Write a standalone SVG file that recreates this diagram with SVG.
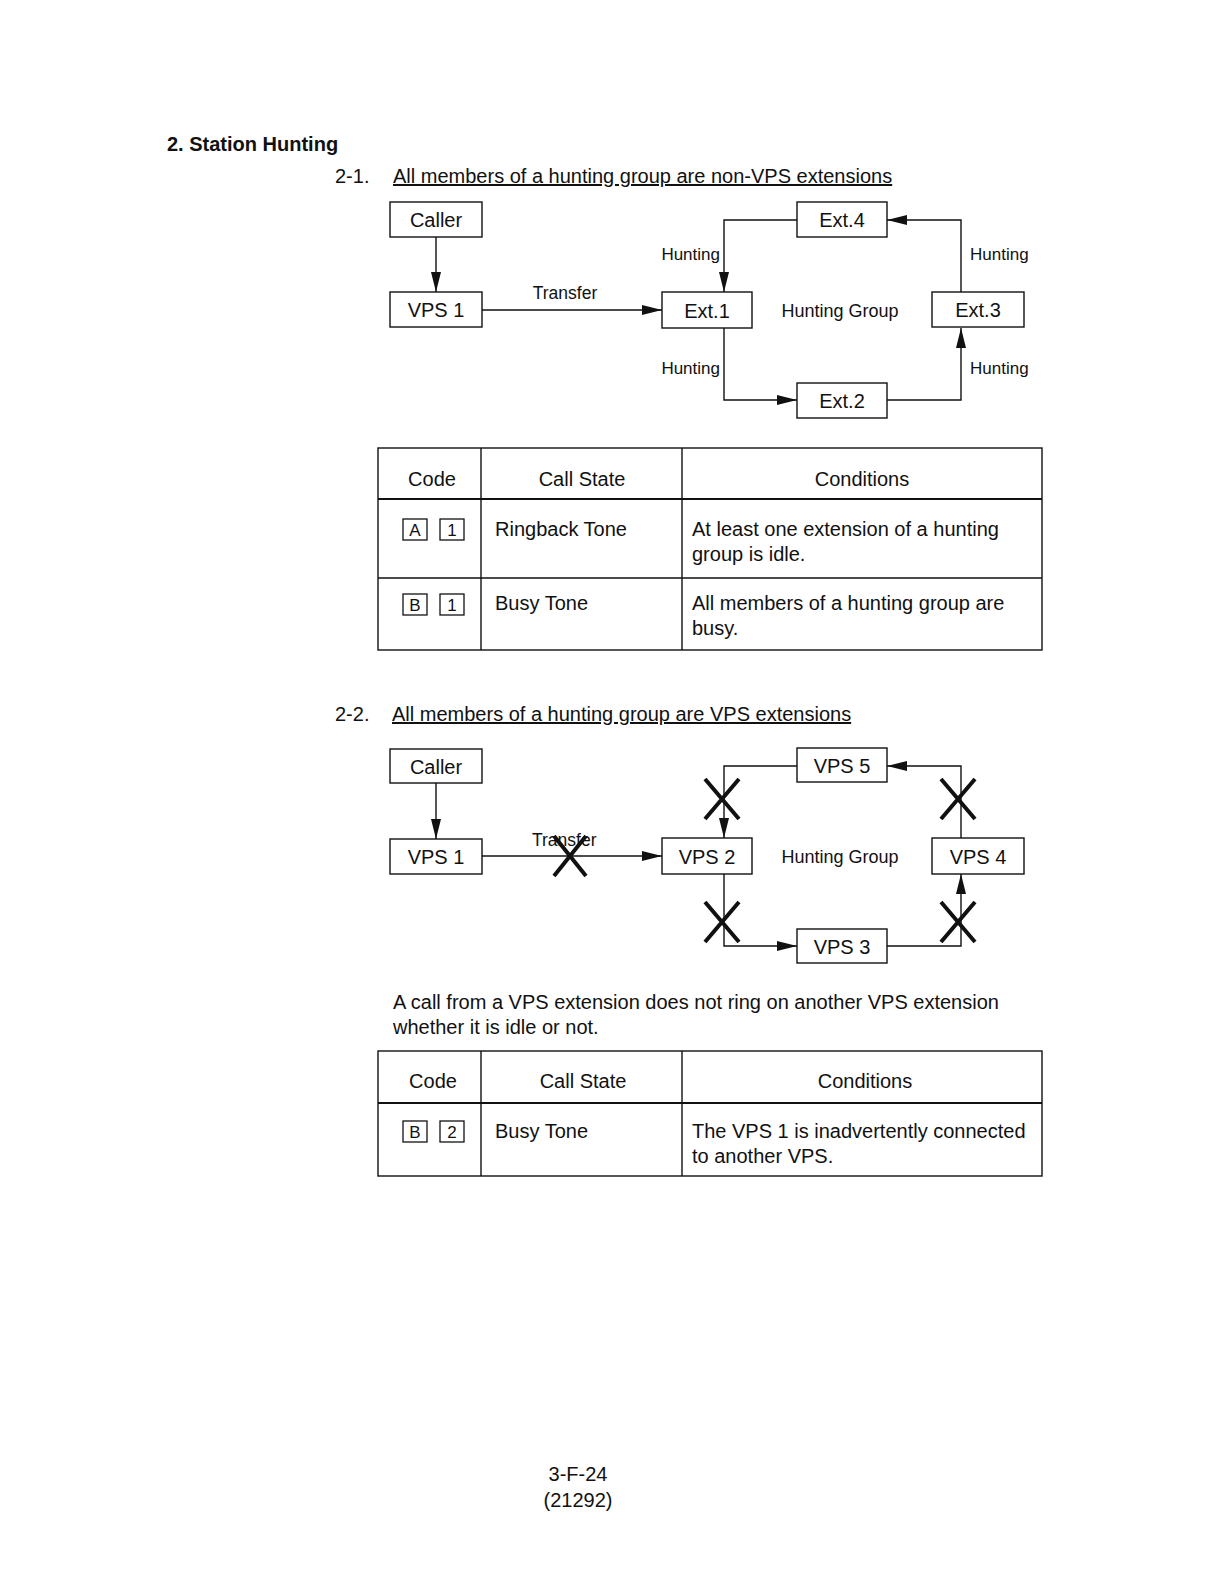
<svg xmlns="http://www.w3.org/2000/svg" width="1220" height="1587" viewBox="0 0 1220 1587">
<style>
text{font-family:"Liberation Sans",Arial,sans-serif;fill:#111}
.box{fill:#fff;stroke:#111;stroke-width:1.4}
.lbl{font-size:20px;text-anchor:middle}
.sm{font-size:17px}
.hg{font-size:18px;text-anchor:middle}
.t{font-size:20px}
.ln{fill:none;stroke:#111;stroke-width:1.4}
.x{stroke:#111;stroke-width:4;fill:none}
.tb{fill:none;stroke:#111;stroke-width:1.4}
.hd{stroke:#111;stroke-width:2.2}
.code{fill:#fff;stroke:#111;stroke-width:1.3}
.cd{font-size:17px;text-anchor:middle}
</style>
<defs>
<marker id="ah" viewBox="0 0 20 10" refX="20" refY="5" markerWidth="20" markerHeight="10" markerUnits="userSpaceOnUse" orient="auto">
<path d="M0,0 L20,5 L0,10 Z" fill="#111"/>
</marker>
</defs>
<rect width="1220" height="1587" fill="#fff"/>

<text x="167" y="151" style="font-size:20px;font-weight:bold">2. Station Hunting</text>
<text x="335" y="183" class="t">2-1.</text>
<text x="393" y="183" class="t" text-decoration="underline">All members of a hunting group are non-VPS extensions</text>

<g id="connectors1">
<line class="ln" x1="436" y1="237" x2="436" y2="292" marker-end="url(#ah)"/>
<line class="ln" x1="482" y1="310" x2="662" y2="310" marker-end="url(#ah)"/>
<polyline class="ln" points="797,220 724,220 724,292" marker-end="url(#ah)"/>
<polyline class="ln" points="724,328 724,400 797,400" marker-end="url(#ah)"/>
<polyline class="ln" points="887,400 961,400 961,328" marker-end="url(#ah)"/>
<polyline class="ln" points="961,292 961,220 887,220" marker-end="url(#ah)"/>
<text x="565" y="299" style="font-size:17.5px" text-anchor="middle">Transfer</text>
<text x="720" y="260" class="sm" text-anchor="end">Hunting</text>
<text x="720" y="374" class="sm" text-anchor="end">Hunting</text>
<text x="970" y="260" class="sm">Hunting</text>
<text x="970" y="374" class="sm">Hunting</text>
</g>
<g id="caller1"><rect class="box" x="390" y="202" width="92" height="35"/><text x="436" y="227" class="lbl">Caller</text></g>
<g id="vps1a"><rect class="box" x="390" y="292" width="92" height="35"/><text x="436" y="317" class="lbl">VPS 1</text></g>
<g id="ext1"><rect class="box" x="662" y="292" width="90" height="36"/><text x="707" y="318" class="lbl">Ext.1</text></g>
<g id="ext4"><rect class="box" x="797" y="202" width="90" height="35"/><text x="842" y="227" class="lbl">Ext.4</text></g>
<g id="ext3"><rect class="box" x="932" y="292" width="92" height="35"/><text x="978" y="317" class="lbl">Ext.3</text></g>
<g id="ext2"><rect class="box" x="797" y="383" width="90" height="35"/><text x="842" y="408" class="lbl">Ext.2</text></g>
<g id="hg1"><text x="840" y="317" class="hg">Hunting Group</text></g>

<g id="table1">
<rect class="tb" x="378" y="448" width="664" height="202"/>
<line class="hd" x1="378" y1="499" x2="1042" y2="499"/>
<line class="tb" x1="378" y1="578" x2="1042" y2="578"/>
<line class="tb" x1="481" y1="448" x2="481" y2="650"/>
<line class="tb" x1="682" y1="448" x2="682" y2="650"/>
<text x="432" y="486" class="lbl">Code</text>
<text x="582" y="486" class="lbl">Call State</text>
<text x="862" y="486" class="lbl">Conditions</text>
<rect class="code" x="403" y="519" width="24" height="21"/><text x="415" y="536" class="cd">A</text>
<rect class="code" x="440" y="519" width="24" height="21"/><text x="452" y="536" class="cd">1</text>
<text x="495" y="536" class="t">Ringback Tone</text>
<text x="692" y="536" class="t">At least one extension of a hunting</text>
<text x="692" y="561" class="t">group is idle.</text>
<rect class="code" x="403" y="594" width="24" height="21"/><text x="415" y="611" class="cd">B</text>
<rect class="code" x="440" y="594" width="24" height="21"/><text x="452" y="611" class="cd">1</text>
<text x="495" y="610" class="t">Busy Tone</text>
<text x="692" y="610" class="t">All members of a hunting group are</text>
<text x="692" y="635" class="t">busy.</text>
</g>

<text x="335" y="721" class="t">2-2.</text>
<text x="392" y="721" class="t" text-decoration="underline">All members of a hunting group are VPS extensions</text>

<g id="connectors2">
<line class="ln" x1="436" y1="783" x2="436" y2="839" marker-end="url(#ah)"/>
<line class="ln" x1="482" y1="856" x2="662" y2="856" marker-end="url(#ah)"/>
<polyline class="ln" points="797,766 724,766 724,838" marker-end="url(#ah)"/>
<polyline class="ln" points="724,874 724,946 797,946" marker-end="url(#ah)"/>
<polyline class="ln" points="887,946 961,946 961,874" marker-end="url(#ah)"/>
<polyline class="ln" points="961,838 961,766 887,766" marker-end="url(#ah)"/>
<text x="532" y="846" style="font-size:17.5px">Transfer</text>
<path class="x" d="M554,836 L586,876 M586,836 L554,876"/>
<path class="x" d="M705,779 L739,819 M739,779 L705,819"/>
<path class="x" d="M941,779 L975,819 M975,779 L941,819"/>
<path class="x" d="M705,902 L739,942 M739,902 L705,942"/>
<path class="x" d="M941,902 L975,942 M975,902 L941,942"/>
</g>
<g id="caller2"><rect class="box" x="390" y="749" width="92" height="34"/><text x="436" y="774" class="lbl">Caller</text></g>
<g id="vps1b"><rect class="box" x="390" y="839" width="92" height="35"/><text x="436" y="864" class="lbl">VPS 1</text></g>
<g id="vps2"><rect class="box" x="662" y="838" width="90" height="36"/><text x="707" y="864" class="lbl">VPS 2</text></g>
<g id="vps5"><rect class="box" x="797" y="748" width="90" height="34"/><text x="842" y="773" class="lbl">VPS 5</text></g>
<g id="vps4"><rect class="box" x="932" y="838" width="92" height="36"/><text x="978" y="864" class="lbl">VPS 4</text></g>
<g id="vps3"><rect class="box" x="797" y="929" width="90" height="34"/><text x="842" y="954" class="lbl">VPS 3</text></g>
<g id="hg2"><text x="840" y="863" class="hg">Hunting Group</text></g>

<text x="393" y="1009" class="t">A call from a VPS extension does not ring on another VPS extension</text>
<text x="393" y="1034" class="t">whether it is idle or not.</text>

<g id="table2">
<rect class="tb" x="378" y="1051" width="664" height="125"/>
<line class="hd" x1="378" y1="1103" x2="1042" y2="1103"/>
<line class="tb" x1="481" y1="1051" x2="481" y2="1176"/>
<line class="tb" x1="682" y1="1051" x2="682" y2="1176"/>
<text x="433" y="1088" class="lbl">Code</text>
<text x="583" y="1088" class="lbl">Call State</text>
<text x="865" y="1088" class="lbl">Conditions</text>
<rect class="code" x="403" y="1121" width="24" height="21"/><text x="415" y="1138" class="cd">B</text>
<rect class="code" x="440" y="1121" width="24" height="21"/><text x="452" y="1138" class="cd">2</text>
<text x="495" y="1138" class="t">Busy Tone</text>
<text x="692" y="1138" class="t">The VPS 1 is inadvertently connected</text>
<text x="692" y="1163" class="t">to another VPS.</text>
</g>

<text x="578" y="1481" class="t" text-anchor="middle">3-F-24</text>
<text x="578" y="1507" class="t" text-anchor="middle">(21292)</text>
</svg>
